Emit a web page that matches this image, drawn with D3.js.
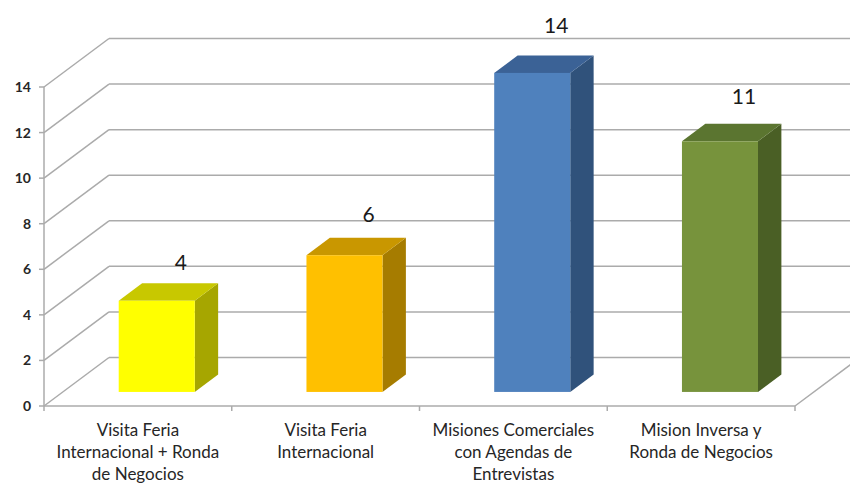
<!DOCTYPE html>
<html>
<head>
<meta charset="utf-8">
<script src="https://cdn.jsdelivr.net/npm/d3@7"></script>
<style>
html, body { margin: 0; padding: 0; background: #ffffff; }
svg { display: block; }
</style>
</head>
<body>
<svg id="chart" width="850" height="485"></svg>
<script>
// ---- data ----
const categories = [
  "Visita Feria|Internacional + Ronda|de Negocios",
  "Visita Feria|Internacional",
  "Misiones Comerciales|con Agendas de|Entrevistas",
  "Mision Inversa y|Ronda de Negocios"
];
const values = [4, 6, 14, 11];
const yTicks = [0, 2, 4, 6, 8, 10, 12, 14];
const frontColors = ["#FFFF00", "#FFC000", "#4F81BD", "#77933C"];
const topColors   = ["#C8C800", "#C99700", "#3B6296", "#5B7530"];
const sideColors  = ["#A6A600", "#A67C00", "#30527B", "#4A5F25"];

// ---- geometry ----
const svg = d3.select("#chart");
const DX = 65, DY = 48.5;           // full depth offset of the plot box
const proj = (x, y, d) => [x + d * DX, y - d * DY];

const x = d3.scaleBand().domain(categories).range([44, 795]).padding(0);
const y = d3.scaleLinear().domain([0, 14]).range([406, 87]);
const labelY = d3.scaleLinear().domain([0, 14]).range([357, 25]);

const gridColor = "#ABABAB";

// back wall gridlines + left wall diagonals
const grid = svg.append("g");
yTicks.forEach(t => {
  const f = [44, y(t)];
  const b = proj(44, y(t), 1);
  grid.append("line").attr("x1", f[0]).attr("y1", f[1]).attr("x2", b[0]).attr("y2", b[1])
    .attr("stroke", gridColor).attr("stroke-width", 1.5);
  grid.append("line").attr("x1", b[0]).attr("y1", b[1]).attr("x2", 850).attr("y2", b[1])
    .attr("stroke", gridColor).attr("stroke-width", 1.5);
});
// floor right edge
{
  const f = [795, y(0)];
  const b = proj(795, y(0), 1);
  grid.append("line").attr("x1", f[0]).attr("y1", f[1]).attr("x2", b[0]).attr("y2", b[1])
    .attr("stroke", gridColor).attr("stroke-width", 1.5);
}

// vertical axis (front)
const ax = svg.append("g");
ax.append("line").attr("x1", 44).attr("y1", y(14)).attr("x2", 44).attr("y2", y(0))
  .attr("stroke", gridColor).attr("stroke-width", 1.5);
yTicks.forEach(t => {
  ax.append("line").attr("x1", 39).attr("x2", 44).attr("y1", y(t)).attr("y2", y(t))
    .attr("stroke", gridColor).attr("stroke-width", 1.5);
  ax.append("text").attr("x", 31).attr("y", y(t)).attr("dy", "0.36em")
    .attr("text-anchor", "end")
    .attr("font-family", "Lato, 'Open Sans', sans-serif")
    .attr("font-size", 14).attr("font-weight", "bold").attr("fill", "#262626")
    .text(t);
});

// horizontal axis (front)
ax.append("line").attr("x1", 44).attr("x2", 795).attr("y1", y(0)).attr("y2", y(0))
  .attr("stroke", gridColor).attr("stroke-width", 1.5);
const bounds = categories.map(c => x(c)).concat([x.range()[1]]);
bounds.forEach(b => {
  ax.append("line").attr("x1", b).attr("x2", b).attr("y1", y(0)).attr("y2", y(0) + 5)
    .attr("stroke", gridColor).attr("stroke-width", 1.5);
});

// category labels
categories.forEach(c => {
  const cx = x(c) + x.bandwidth() / 2;
  const t = ax.append("text").attr("text-anchor", "middle")
    .attr("font-family", "Lato, 'Open Sans', sans-serif")
    .attr("font-size", 17).attr("fill", "#262626");
  c.split("|").forEach((line, i) => {
    t.append("tspan").attr("x", cx).attr("y", 436 + i * 22).text(line);
  });
});

// bars
const d0 = 0.29, d1 = 0.65;
const barW = x.bandwidth() * 0.405;
const bars = svg.append("g");
categories.forEach((c, i) => {
  const v = values[i];
  const fx = x(c) + (x.bandwidth() - barW) / 2;
  const [x0, yb] = proj(fx, y(0), d0);
  const [, yt] = proj(fx, y(v), d0);
  const x1 = x0 + barW;
  const ddx = (d1 - d0) * DX, ddy = (d1 - d0) * DY;
  // side
  bars.append("polygon")
    .attr("points", [[x1, yt], [x1 + ddx, yt - ddy], [x1 + ddx, yb - ddy], [x1, yb]].map(p => p.join(",")).join(" "))
    .attr("fill", sideColors[i]);
  // top
  bars.append("polygon")
    .attr("points", [[x0, yt], [x1, yt], [x1 + ddx, yt - ddy], [x0 + ddx, yt - ddy]].map(p => p.join(",")).join(" "))
    .attr("fill", topColors[i]);
  // front
  bars.append("rect").attr("x", x0).attr("y", yt).attr("width", barW).attr("height", yb - yt)
    .attr("fill", frontColors[i]);
  // value label
  bars.append("text").attr("x", x0 + barW / 2 + 24).attr("y", labelY(v)).attr("dy", "0.36em")
    .attr("text-anchor", "middle")
    .attr("font-family", "Lato, 'Open Sans', sans-serif")
    .attr("font-size", 21).attr("fill", "#1a1a1a")
    .text(v);
});
</script>
</body>
</html>
